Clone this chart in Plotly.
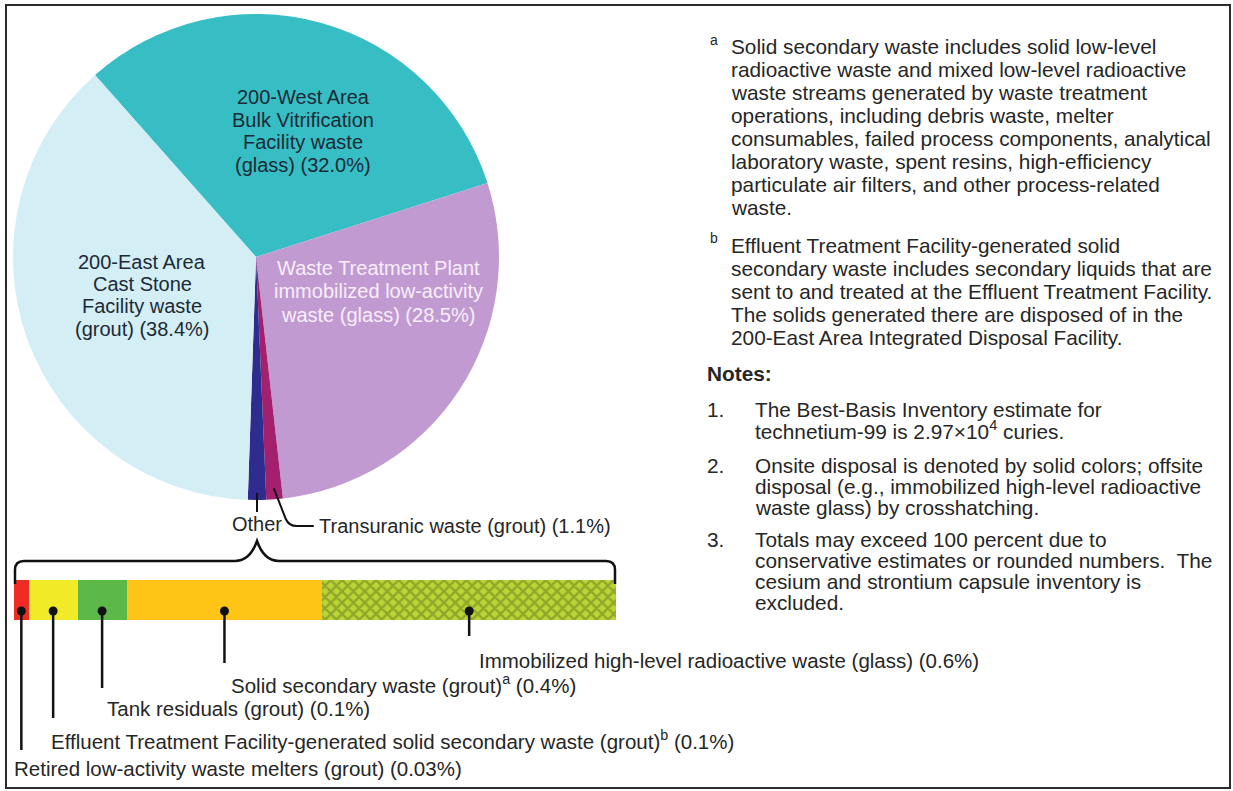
import numpy as np
import plotly.graph_objects as go

W, H = 1233, 791
FONT = "Liberation Sans, Arial, Helvetica, sans-serif"
TXT = "#262626"

# ---------------- data ----------------
pie_labels = [
    "200-West Area Bulk Vitrification Facility waste (glass)",
    "Waste Treatment Plant immobilized low-activity waste (glass)",
    "Transuranic waste (grout)",
    "Other",
    "200-East Area Cast Stone Facility waste (grout)",
]
west_bulk_vit = 32.0
wtp_ilaw = 28.5
transuranic = 1.1
east_cast_stone = 38.4

other_labels = [
    "Retired low-activity waste melters (grout)",
    "Effluent Treatment Facility-generated solid secondary waste (grout)",
    "Tank residuals (grout)",
    "Solid secondary waste (grout)",
    "Immobilized high-level radioactive waste (glass)",
]
other_values = [0.03, 0.1, 0.1, 0.4, 0.6]
other_text = [
    "Retired low-activity waste melters (grout) (0.03%)",
    "Effluent Treatment Facility-generated solid secondary waste (grout)<sup>b</sup> (0.1%)",
    "Tank residuals (grout) (0.1%)",
    "Solid secondary waste (grout)<sup>a</sup> (0.4%)",
    "Immobilized high-level radioactive waste (glass) (0.6%)",
]
other_colors = ["#ee2b25", "#f1ea26", "#5db84a", "#fec416", "#b9d536"]
other_hatched = [False, False, False, False, True]

pie_values = [west_bulk_vit, wtp_ilaw, transuranic, float(np.sum(other_values)), east_cast_stone]
pie_colors = ["#37bec4", "#c29ad2", "#a3206e", "#2e2c8e", "#d3eef5"]

west_text = ["200-West Area", "Bulk Vitrification", "Facility waste", "(glass) (32.0%)"]
east_text = ["200-East Area", "Cast Stone", "Facility waste", "(grout) (38.4%)"]
wtp_text = ["Waste Treatment Plant", "immobilized low-activity", "waste (glass) (28.5%)"]

a_lines = [
    "Solid secondary waste includes solid low-level",
    "radioactive waste and mixed low-level radioactive",
    "waste streams generated by waste treatment",
    "operations, including debris waste, melter",
    "consumables, failed process components, analytical",
    "laboratory waste, spent resins, high-efficiency",
    "particulate air filters, and other process-related",
    "waste.",
]
b_lines = [
    "Effluent Treatment Facility-generated solid",
    "secondary waste includes secondary liquids that are",
    "sent to and treated at the Effluent Treatment Facility.",
    "The solids generated there are disposed of in the",
    "200-East Area Integrated Disposal Facility.",
]
note_lines = [
    ["The Best-Basis Inventory estimate for",
     "technetium-99 is 2.97×10<sup>4</sup> curies."],
    ["Onsite disposal is denoted by solid colors; offsite",
     "disposal (e.g., immobilized high-level radioactive",
     "waste glass) by crosshatching."],
    ["Totals may exceed 100 percent due to",
     "conservative estimates or rounded numbers.  The",
     "cesium and strontium capsule inventory is",
     "excluded."],
]

# ---------------- geometry (layout) ----------------
PIE_X0, PIE_X1, PIE_Y0, PIE_Y1 = 13, 499, 14, 500
CX, CY, R = (PIE_X0 + PIE_X1) / 2, (PIE_Y0 + PIE_Y1) / 2, (PIE_X1 - PIE_X0) / 2
ROT = -41.5
BAR_X0, BAR_X1, BAR_Y0, BAR_Y1 = 14, 616, 580, 620


def px(x):
    return x / W


def py(y):
    return 1 - y / H


fig = go.Figure()

fig.add_trace(go.Pie(
    labels=pie_labels, values=pie_values, sort=False, direction="clockwise",
    rotation=ROT, textinfo="none", hoverinfo="label+value",
    marker=dict(colors=pie_colors, line=dict(width=0)),
    domain=dict(x=[px(PIE_X0), px(PIE_X1)], y=[py(PIE_Y1), py(PIE_Y0)]),
    showlegend=False,
))

# stacked bar of "Other"
for lab, v, c, h in zip(other_labels, other_values, other_colors, other_hatched):
    pattern = dict(shape="x", fgcolor="#66771a", size=8, solidity=0.5, fillmode="overlay") if h else dict(shape="")
    fig.add_trace(go.Bar(
        x=[v], y=[0], orientation="h", name=lab, width=1,
        marker=dict(color=c, line=dict(width=0), pattern=pattern),
        xaxis="x2", yaxis="y2", showlegend=False, hoverinfo="name+x",
    ))

cum = np.concatenate([[0], np.cumsum(other_values)])
mids = (cum[:-1] + cum[1:]) / 2
DOT_Y = 611
fig.add_trace(go.Scatter(
    x=mids, y=[-0.275] * len(mids), mode="markers", xaxis="x2", yaxis="y2",
    marker=dict(color="#111", size=9), showlegend=False, hoverinfo="skip",
))

# pie dots (computed from slice mid-angles)
pcum = np.concatenate([[0], np.cumsum(pie_values)])
tot = pcum[-1]
mid_ang = np.deg2rad(ROT + (pcum[:-1] + pcum[1:]) / 2 / tot * 360)
dot_r = 0.955 * R
dx = CX + dot_r * np.sin(mid_ang)
dy = CY - dot_r * np.cos(mid_ang)
tx, ty = dx[2], dy[2]
ox, oy = dx[3], dy[3]
fig.add_trace(go.Scatter(
    x=[ox, tx], y=[oy, ty], mode="markers", xaxis="x3", yaxis="y3",
    marker=dict(color=["#ffffff", "#3a0d22"], size=9, line=dict(color="#222", width=[1.5, 0])),
    showlegend=False, hoverinfo="skip",
))

shapes = []
# frame
shapes.append(dict(type="rect", xref="x3", yref="y3", x0=6, x1=1230, y0=5, y1=788,
                   line=dict(color="#2b2b2b", width=2), fillcolor="rgba(0,0,0,0)", layer="above"))
# brace
shapes.append(dict(type="path", xref="x3", yref="y3",
                   path="M 15 584 L 15 570 Q 15 561 24 561 L 235 561 Q 250 561 257 541 "
                        "Q 264 561 279 561 L 606 561 Q 615 561 615 570 L 615 584",
                   line=dict(color="#111", width=2.5)))
# other connector
shapes.append(dict(type="line", xref="x3", yref="y3", x0=ox, x1=ox, y0=oy + 4, y1=512,
                   line=dict(color="#111", width=2)))
# transuranic connector
shapes.append(dict(type="path", xref="x3", yref="y3",
                   path=f"M {tx:.1f} {ty:.1f} L {tx + 12:.1f} 519 Q {tx + 15:.1f} 526 {tx + 23:.1f} 526 L {tx + 40:.1f} 526",
                   line=dict(color="#111", width=2)))
# bar leader lines
leader_end = [750, 718, 688, 663, 636]
for m, ye in zip(mids, leader_end):
    shapes.append(dict(type="line", xref="x2", yref="y3", x0=m, x1=m, y0=DOT_Y, y1=ye,
                       line=dict(color="#111", width=2.5)))

ann = []


def add_text(x, y, text, size=21, color=TXT, anchor="left", bold=False):
    ann.append(dict(x=x, y=y, xref="x3", yref="y3", text=f"<b>{text}</b>" if bold else text,
                    showarrow=False, xanchor=anchor, yanchor="middle",
                    font=dict(family=FONT, size=size, color=color)))


for i, t in enumerate(west_text):
    add_text(303, 97 + i * 22.7, t, size=20, color="#1c2a36", anchor="center")
for i, t in enumerate(east_text):
    add_text(142, 262 + i * 22.2, t, size=20, color="#1c2a36", anchor="center")
for i, t in enumerate(wtp_text):
    add_text(378, 268 + i * 23.3, t, size=20, color="#f7eefa", anchor="center")

add_text(ox, 524, "Other", size=20, anchor="center")
add_text(tx + 43, 526, "Transuranic waste (grout) (1.1%)", size=20)

label_pos = [(12, 768), (49, 740), (105, 708), (229, 684), (477, 660)]
for (lx, ly), t in zip(label_pos, other_text):
    add_text(lx, ly, t, size=20.5)

# footnotes
add_text(708, 40, "a", size=14)
for i, t in enumerate(a_lines):
    add_text(729, 46 + i * 23, t, size=20.8)
add_text(708, 238, "b", size=14)
for i, t in enumerate(b_lines):
    add_text(729, 245 + i * 23, t, size=20.8)

add_text(705, 373, "Notes:", size=20.8, bold=True)
note_starts = [409, 465, 539]
for k, (ys, lines) in enumerate(zip(note_starts, note_lines)):
    add_text(705, ys, f"{k + 1}.", size=20.8)
    for i, t in enumerate(lines):
        add_text(753, ys + i * 21, t, size=20.8)

hidden = dict(visible=False, showgrid=False, zeroline=False, fixedrange=True)
fig.update_layout(
    width=W, height=H, margin=dict(l=0, r=0, t=0, b=0),
    paper_bgcolor="white", plot_bgcolor="rgba(0,0,0,0)",
    barmode="stack", bargap=0, showlegend=False,
    xaxis=dict(**hidden), yaxis=dict(**hidden),
    xaxis2=dict(domain=[px(BAR_X0), px(BAR_X1)], range=[0, float(cum[-1])], anchor="y2", **hidden),
    yaxis2=dict(domain=[py(BAR_Y1), py(BAR_Y0)], range=[-0.5, 0.5], anchor="x2", **hidden),
    xaxis3=dict(domain=[0, 1], range=[0, W], anchor="y3", **hidden),
    yaxis3=dict(domain=[0, 1], range=[H, 0], anchor="x3", **hidden),
    shapes=shapes, annotations=ann,
)

fig.write_html("out.html", config={"displayModeBar": False},
               post_script="document.body.style.margin='0px';document.body.style.overflow='hidden';")
